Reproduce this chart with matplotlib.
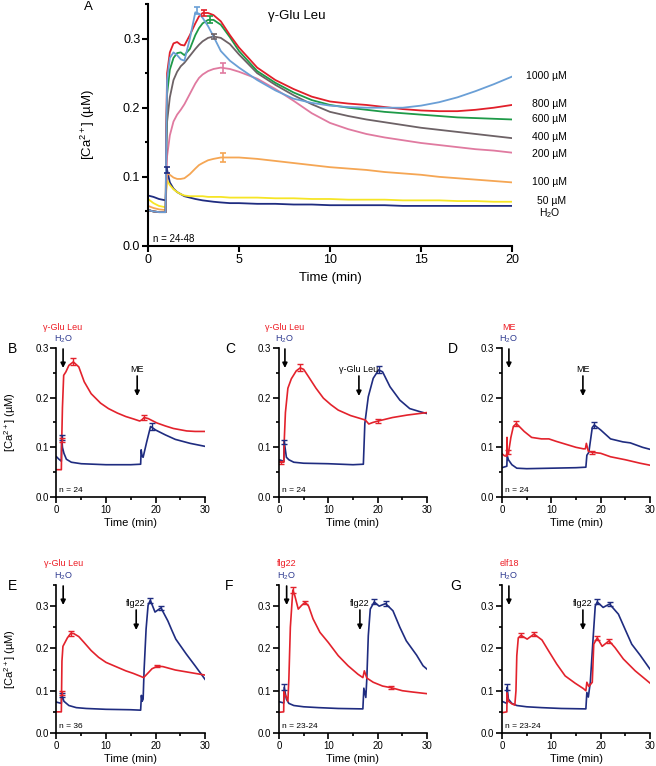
import matplotlib
matplotlib.use("Agg")
import matplotlib.pyplot as plt
from matplotlib.ticker import MultipleLocator, FormatStrFormatter

plt.rcParams['font.family'] = ['Liberation Sans', 'DejaVu Sans']
plt.rcParams['mathtext.fontset'] = 'custom'
plt.rcParams['mathtext.rm'] = 'Liberation Sans'
plt.rcParams['mathtext.it'] = 'Liberation Sans:italic'
plt.rcParams['mathtext.bf'] = 'Liberation Sans:bold'
plt.rcParams['mathtext.default'] = 'regular'

# ---------------- panel A : dose response ----------------
tA = [0, 0.3, 0.6, 0.97, 1.0, 1.05, 1.2, 1.4, 1.6, 1.8, 2.0, 2.3, 2.6, 2.8, 3.0, 3.3, 3.6, 4.0, 4.5, 5.0,
      6, 7, 8, 9, 10, 11, 12, 13, 14, 15, 16, 17, 18, 19, 20]
a_h2o = [0.073, 0.071, 0.068, 0.066, 0.090, 0.110, 0.092, 0.083, 0.078, 0.075, 0.072, 0.070, 0.068, 0.067, 0.066, 0.065, 0.064, 0.063, 0.062, 0.062,
         0.061, 0.061, 0.060, 0.060, 0.059, 0.059, 0.059, 0.059, 0.058, 0.058, 0.058, 0.058, 0.058, 0.058, 0.058]
a_50 = [0.068, 0.062, 0.058, 0.056, 0.080, 0.095, 0.088, 0.082, 0.078, 0.075, 0.073, 0.072, 0.072, 0.072, 0.072, 0.071, 0.071, 0.071, 0.070, 0.070,
        0.070, 0.069, 0.069, 0.068, 0.068, 0.067, 0.067, 0.067, 0.066, 0.066, 0.066, 0.065, 0.065, 0.064, 0.064]
a_100 = [0.058, 0.055, 0.053, 0.052, 0.080, 0.105, 0.103, 0.099, 0.097, 0.097, 0.098, 0.104, 0.112, 0.117, 0.120, 0.124, 0.126, 0.128, 0.128, 0.128,
         0.126, 0.123, 0.120, 0.117, 0.114, 0.112, 0.110, 0.107, 0.105, 0.103, 0.100, 0.098, 0.096, 0.094, 0.092]
a_200 = [0.052, 0.050, 0.049, 0.049, 0.090, 0.130, 0.160, 0.180, 0.190, 0.197, 0.205, 0.220, 0.235, 0.243, 0.248, 0.253, 0.256, 0.258, 0.256, 0.252,
         0.242, 0.227, 0.210, 0.192, 0.178, 0.169, 0.162, 0.157, 0.153, 0.149, 0.146, 0.143, 0.140, 0.138, 0.135]
a_400 = [0.052, 0.050, 0.049, 0.049, 0.120, 0.180, 0.215, 0.240, 0.252, 0.260, 0.265, 0.275, 0.285, 0.291, 0.296, 0.301, 0.303, 0.301, 0.292, 0.277,
         0.250, 0.233, 0.218, 0.205, 0.194, 0.188, 0.183, 0.179, 0.175, 0.171, 0.168, 0.165, 0.162, 0.159, 0.156]
a_600 = [0.052, 0.050, 0.049, 0.049, 0.150, 0.220, 0.255, 0.272, 0.279, 0.280, 0.276, 0.285, 0.305, 0.315, 0.322, 0.327, 0.327, 0.320, 0.302, 0.282,
         0.253, 0.236, 0.222, 0.211, 0.204, 0.200, 0.197, 0.194, 0.192, 0.190, 0.188, 0.186, 0.185, 0.184, 0.183]
a_800 = [0.052, 0.050, 0.049, 0.049, 0.170, 0.250, 0.280, 0.293, 0.295, 0.291, 0.290, 0.305, 0.322, 0.332, 0.337, 0.337, 0.334, 0.325, 0.305, 0.287,
         0.258, 0.240, 0.227, 0.216, 0.209, 0.206, 0.204, 0.201, 0.198, 0.196, 0.195, 0.195, 0.197, 0.200, 0.204]
a_1000 = [0.052, 0.050, 0.049, 0.049, 0.150, 0.240, 0.272, 0.280, 0.276, 0.270, 0.268, 0.300, 0.338, 0.336, 0.330, 0.318, 0.303, 0.282, 0.268, 0.258,
          0.240, 0.225, 0.213, 0.207, 0.203, 0.201, 0.200, 0.200, 0.200, 0.203, 0.208, 0.215, 0.224, 0.234, 0.245]
a_series = [a_h2o, a_50, a_100, a_200, a_400, a_600, a_800, a_1000]
a_colors = ['#1f2c80', '#f6e526', '#f5a654', '#e07aa0', '#6d6266', '#1e9a48', '#e11f2a', '#6a9fd6']
a_labels = ['H$_2$O', '50 µM', '100 µM', '200 µM', '400 µM', '600 µM', '800 µM', '1000 µM']
a_label_y = [0.048, 0.065, 0.092, 0.133, 0.158, 0.183, 0.205, 0.246]
# error bars (time, value, sem) per series
a_err_t = [1.05, None, 4.1, 4.1, 3.6, 3.4, 3.08, 2.67]
a_err_v = [0.110, None, 0.128, 0.257, 0.303, 0.327, 0.337, 0.340]
a_err_e = [0.004, None, 0.007, 0.007, 0.004, 0.005, 0.004, 0.005]

# ---------------- panels B-G : red = treatment, blue = H2O ----------------
b_red_t = [0, 0.98, 1.05, 1.2, 1.45, 1.9, 2.5, 3.4, 4.5, 5.6, 7, 8.9, 10.5, 12.3, 14, 15.6, 16.8, 17.2, 17.7, 18.5, 20.3, 22, 23.6, 26.3, 28, 30]
b_red_v = [0.055, 0.055, 0.11, 0.18, 0.245, 0.252, 0.265, 0.272, 0.262, 0.232, 0.208, 0.189, 0.178, 0.169, 0.162, 0.157, 0.153, 0.155, 0.160, 0.158, 0.149, 0.143, 0.138, 0.133, 0.132, 0.132]
b_blue_t = [0, 0.5, 0.98, 1.05, 1.2, 1.5, 2, 3, 5, 10, 15, 17, 17.1, 17.3, 17.5, 18.2, 19, 19.3, 20, 22, 24, 27, 30]
b_blue_v = [0.081, 0.076, 0.072, 0.123, 0.10, 0.088, 0.076, 0.070, 0.067, 0.065, 0.065, 0.066, 0.095, 0.082, 0.080, 0.11, 0.142, 0.14, 0.135, 0.125, 0.116, 0.108, 0.102]

c_red_t = [0, 0.98, 1.05, 1.3, 1.8, 2.5, 3.5, 4.3, 5, 6, 7.5, 9, 10.5, 12, 14.5, 16.5, 17.5, 18.2, 19, 20.1, 23, 26, 30]
c_red_v = [0.070, 0.070, 0.11, 0.17, 0.219, 0.238, 0.254, 0.26, 0.257, 0.242, 0.219, 0.199, 0.186, 0.175, 0.164, 0.158, 0.155, 0.147, 0.150, 0.153, 0.160, 0.165, 0.170]
c_blue_t = [0, 0.98, 1.05, 1.5, 2, 3, 5, 10, 15, 17.1, 17.4, 18.1, 19.1, 20.2, 21, 22.5, 24.5, 26.5, 28.5, 30]
c_blue_v = [0.075, 0.072, 0.112, 0.08, 0.075, 0.070, 0.068, 0.067, 0.065, 0.066, 0.148, 0.202, 0.239, 0.256, 0.252, 0.222, 0.195, 0.178, 0.172, 0.168]

d_red_t = [0, 0.5, 0.98, 1.02, 1.06, 1.3, 1.8, 2.3, 2.9, 3.5, 4.5, 6, 8, 9.5, 11, 13, 15, 16.5, 16.9, 17.1, 17.5, 18.3, 20, 22, 25, 28, 30]
d_red_v = [0.087, 0.083, 0.082, 0.12, 0.085, 0.088, 0.12, 0.142, 0.148, 0.142, 0.132, 0.12, 0.117, 0.117, 0.112, 0.106, 0.100, 0.097, 0.097, 0.108, 0.092, 0.090, 0.088, 0.081, 0.075, 0.068, 0.064]
d_blue_t = [0, 0.98, 1.05, 1.3, 2, 3, 5, 10, 15, 17, 17.2, 17.6, 18.3, 18.7, 20, 22, 24.5, 26, 28.5, 30]
d_blue_v = [0.059, 0.062, 0.084, 0.075, 0.065, 0.058, 0.057, 0.058, 0.059, 0.060, 0.084, 0.090, 0.140, 0.145, 0.135, 0.117, 0.111, 0.109, 0.100, 0.096]

e_red_t = [0, 0.98, 1.02, 1.1, 1.3, 2.2, 2.9, 3.5, 4.5, 5.5, 7, 8.5, 10, 12, 14, 15.5, 17, 17.6, 18.5, 19.3, 20.4, 21.5, 24, 27, 30]
e_red_v = [0.050, 0.050, 0.095, 0.17, 0.205, 0.225, 0.236, 0.235, 0.228, 0.215, 0.195, 0.179, 0.167, 0.157, 0.147, 0.141, 0.134, 0.131, 0.142, 0.152, 0.158, 0.157, 0.149, 0.143, 0.137]
e_blue_t = [0, 0.98, 1.05, 1.5, 2.5, 4, 6, 10, 15, 17, 17.15, 17.3, 17.5, 17.7, 18.1, 18.5, 18.95, 19.9, 21.1, 22.5, 23.3, 24.1, 26.2, 28, 30]
e_blue_v = [0.073, 0.070, 0.091, 0.075, 0.065, 0.060, 0.058, 0.056, 0.055, 0.054, 0.089, 0.075, 0.08, 0.15, 0.246, 0.302, 0.314, 0.286, 0.296, 0.265, 0.243, 0.222, 0.187, 0.159, 0.127]

f_red_t = [0, 0.95, 1.0, 1.2, 1.5, 1.8, 2.0, 2.3, 2.8, 3.2, 3.9, 4.6, 5.3, 6, 6.9, 8.3, 10, 12, 14, 16, 17, 17.3, 17.8, 19.1, 21, 22.8, 25, 27, 30]
f_red_v = [0.049, 0.050, 0.10, 0.09, 0.085, 0.075, 0.128, 0.25, 0.338, 0.325, 0.293, 0.302, 0.309, 0.300, 0.27, 0.238, 0.214, 0.183, 0.159, 0.139, 0.131, 0.147, 0.130, 0.12, 0.111, 0.107, 0.100, 0.097, 0.093]
f_blue_t = [0, 0.98, 1.05, 1.5, 2, 3, 5, 8, 12, 17, 17.2, 17.6, 17.8, 18.1, 18.5, 19.3, 20.3, 21.6, 23.1, 24.5, 25.8, 27.9, 29.2, 30]
f_blue_v = [0.074, 0.071, 0.108, 0.08, 0.07, 0.065, 0.062, 0.060, 0.058, 0.057, 0.106, 0.084, 0.128, 0.23, 0.293, 0.31, 0.300, 0.306, 0.289, 0.25, 0.218, 0.184, 0.159, 0.151]

g_red_t = [0, 0.98, 1.02, 1.3, 2, 2.6, 2.83, 3.0, 3.3, 3.85, 5.1, 6.5, 8.1, 9.4, 11.1, 12.8, 14.8, 16.5, 17.0, 17.2, 17.6, 18.3, 18.6, 19.3, 20.3, 21.7, 22.9, 24.6, 27, 30]
g_red_v = [0.048, 0.050, 0.095, 0.075, 0.069, 0.066, 0.10, 0.183, 0.225, 0.231, 0.222, 0.234, 0.22, 0.195, 0.163, 0.135, 0.118, 0.105, 0.100, 0.12, 0.11, 0.12, 0.21, 0.225, 0.205, 0.218, 0.202, 0.175, 0.147, 0.118]
g_blue_t = [0, 0.98, 1.05, 1.3, 2, 3, 5, 8, 12, 17, 17.2, 17.5, 17.9, 18.5, 18.9, 19.3, 20.5, 21.8, 23.6, 25, 26.3, 28, 30]
g_blue_v = [0.075, 0.070, 0.108, 0.08, 0.07, 0.065, 0.062, 0.060, 0.058, 0.057, 0.096, 0.085, 0.12, 0.23, 0.30, 0.31, 0.297, 0.305, 0.281, 0.244, 0.21, 0.184, 0.151]

# error bars: (time, value, sem)
b_red_err = [(3.4, 0.272, 0.007), (17.7, 0.160, 0.005), (1.1, 0.115, 0.004)]
b_blue_err = [(1.05, 0.120, 0.005), (19.2, 0.142, 0.007)]
c_red_err = [(4.3, 0.260, 0.007), (20.1, 0.153, 0.004), (0.4, 0.070, 0.003)]
c_blue_err = [(1.05, 0.110, 0.004), (20.2, 0.257, 0.007)]
d_red_err = [(2.9, 0.148, 0.006), (18.3, 0.090, 0.003), (1.15, 0.090, 0.004)]
d_blue_err = [(18.7, 0.145, 0.007)]
e_red_err = [(2.9, 0.236, 0.006), (20.4, 0.158, 0.003), (1.05, 0.095, 0.005)]
e_blue_err = [(1.05, 0.090, 0.005), (18.95, 0.314, 0.006), (21.1, 0.296, 0.005)]
f_red_err = [(2.8, 0.338, 0.008), (5.3, 0.309, 0.004), (22.8, 0.107, 0.003)]
f_blue_err = [(1.05, 0.108, 0.007), (19.3, 0.310, 0.006), (21.6, 0.306, 0.005)]
g_red_err = [(3.85, 0.231, 0.005), (6.5, 0.234, 0.004), (19.3, 0.225, 0.005), (21.7, 0.218, 0.004)]
g_blue_err = [(1.05, 0.108, 0.007), (19.3, 0.310, 0.006), (21.8, 0.305, 0.005)]

treat_labels = ['γ-Glu Leu', 'γ-Glu Leu', 'ME', 'γ-Glu Leu', 'flg22', 'elf18']
second_labels = ['ME', 'γ-Glu Leu', 'ME', 'flg22', 'flg22', 'flg22']
n_labels = ['n = 24', 'n = 24', 'n = 24', 'n = 36', 'n = 23-24', 'n = 23-24']
first_arrow_x = [1.33, 1.2, 1.4, 1.35, 1.55, 1.4]
second_arrow_x = [16.3, 16.2, 16.4, 16.1, 16.4, 16.4]

RED = '#e3222c'
BLUE = '#1f2c80'
RED_TXT = '#ed1c24'
BLUE_TXT = '#2e3a90'

W, H = 656, 766
fig = plt.figure(figsize=(W / 100, H / 100), dpi=100)


def px_axes(l, t, r, b):
    return fig.add_axes([l / W, 1 - b / H, (r - l) / W, (b - t) / H])


def style(ax, lw, fs, xmaj, xmin, ytop):
    for s in ['top', 'right']:
        ax.spines[s].set_visible(False)
    for s in ['left', 'bottom']:
        ax.spines[s].set_linewidth(lw)
    ax.set_ylim(0, ytop)
    ax.xaxis.set_major_locator(MultipleLocator(xmaj))
    if xmin:
        ax.xaxis.set_minor_locator(MultipleLocator(xmin))
    ax.yaxis.set_major_locator(MultipleLocator(0.1))
    ax.yaxis.set_minor_locator(MultipleLocator(0.05))
    ax.yaxis.set_major_formatter(FormatStrFormatter('%.1f'))
    ax.tick_params(which='major', direction='out', length=4, width=lw, labelsize=fs, pad=1.5)
    ax.tick_params(which='minor', direction='out', length=2.5, width=lw)


def ftext(x, y, s, **kw):
    fig.text(x / W, 1 - y / H, s, **kw)


# ---- panel A ----
axA = px_axes(148, 4, 512, 246)
style(axA, 1.5, 9, 5, None, 0.35)
axA.set_xlim(0, 20)
for vals, col in zip(a_series, a_colors):
    axA.plot(tA, vals, color=col, lw=1.3)
for et, ev, ee, col in zip(a_err_t, a_err_v, a_err_e, a_colors):
    if et is not None:
        axA.errorbar([et], [ev], yerr=[ee], fmt='none', ecolor=col, elinewidth=1.2, capsize=2.5, capthick=1.2)
for lab, ly in zip(a_labels, a_label_y):
    if lab.startswith('H'):
        axA.text(22.1, ly, lab, ha='center', va='center', fontsize=7.5, clip_on=False)
    else:
        axA.text(23.0, ly, lab, ha='right', va='center', fontsize=7.5, clip_on=False)
axA.text(8.2, 0.333, 'γ-Glu Leu', ha='center', va='center', fontsize=9.5)
axA.text(0.014, 0.03, 'n = 24-48', transform=axA.transAxes, ha='left', va='center', fontsize=7)
ftext(330, 278, 'Time (min)', ha='center', va='center', fontsize=9.5)
ftext(88, 125, '[Ca$^{2+}$] (µM)', ha='center', va='center', rotation=90, fontsize=9.5)
ftext(88, 7, 'A', ha='center', va='center', fontsize=9.5)

# ---- panels B-G ----
lower = [
    ('B', (56.5, 348, 205, 497), 0.3, b_red_t, b_red_v, b_blue_t, b_blue_v, b_red_err, b_blue_err),
    ('C', (279, 348, 427, 497), 0.3, c_red_t, c_red_v, c_blue_t, c_blue_v, c_red_err, c_blue_err),
    ('D', (502, 348, 650, 497), 0.3, d_red_t, d_red_v, d_blue_t, d_blue_v, d_red_err, d_blue_err),
    ('E', (56.5, 585, 205, 733), 0.35, e_red_t, e_red_v, e_blue_t, e_blue_v, e_red_err, e_blue_err),
    ('F', (279, 585, 427, 733), 0.35, f_red_t, f_red_v, f_blue_t, f_blue_v, f_red_err, f_blue_err),
    ('G', (502, 585, 650, 733), 0.35, g_red_t, g_red_v, g_blue_t, g_blue_v, g_red_err, g_blue_err),
]
letter_x = [8, 225, 448, 8, 225, 450]

for i, (letter, box, ytop, rt, rv, bt, bv, rerr, berr) in enumerate(lower):
    l, t, r, b = box
    ax = px_axes(l, t, r, b)
    style(ax, 1.2, 7, 10, 5, ytop)
    ax.set_xlim(0, 30)
    ax.plot(bt, bv, color=BLUE, lw=1.2)
    ax.plot(rt, rv, color=RED, lw=1.2)
    for errs, col in ((berr, BLUE), (rerr, RED)):
        for et, ev, ee in errs:
            ax.errorbar([et], [ev], yerr=[ee], fmt='none', ecolor=col, elinewidth=1.0, capsize=2, capthick=1.0)
    ax.text(0.02, 0.045, n_labels[i], transform=ax.transAxes, ha='left', va='center', fontsize=6)

    # pixel scale of this axes -> data for annotation placement
    def ydat(py):
        return (b - py) / (b - t) * ytop

    x1 = first_arrow_x[i]
    ax.annotate('', xy=(x1, ydat(t + 20)), xytext=(x1, ydat(t + 1)),
                arrowprops=dict(arrowstyle='-|>', color='k', lw=1.2, mutation_scale=7, shrinkA=0, shrinkB=0),
                annotation_clip=False)
    ax.text(x1, ydat(t - 9), 'H$_2$O', color=BLUE_TXT, ha='center', va='center', fontsize=6.5, clip_on=False)
    ax.text(x1, ydat(t - 21), treat_labels[i], color=RED_TXT, ha='center', va='center', fontsize=6.5, clip_on=False)

    x2 = second_arrow_x[i]
    if ytop < 0.33:
        top2, txt2 = t + 28, t + 21
    else:
        top2, txt2 = t + 25, t + 19
    ax.annotate('', xy=(x2, ydat(top2 + 20)), xytext=(x2, ydat(top2)),
                arrowprops=dict(arrowstyle='-|>', color='k', lw=1.2, mutation_scale=7, shrinkA=0, shrinkB=0),
                annotation_clip=False)
    ax.text(x2, ydat(txt2), second_labels[i], color='k', ha='center', va='center', fontsize=6.5, clip_on=False)

    ftext((l + r) / 2, b + 26, 'Time (min)', ha='center', va='center', fontsize=8)
    ftext(letter_x[i], t + 1, letter, ha='left', va='center', fontsize=10)
    if letter in ('B', 'E'):
        ftext(10, (t + b) / 2, '[Ca$^{2+}$] (µM)', ha='center', va='center', rotation=90, fontsize=8)

fig.savefig('out.png', dpi=100)
